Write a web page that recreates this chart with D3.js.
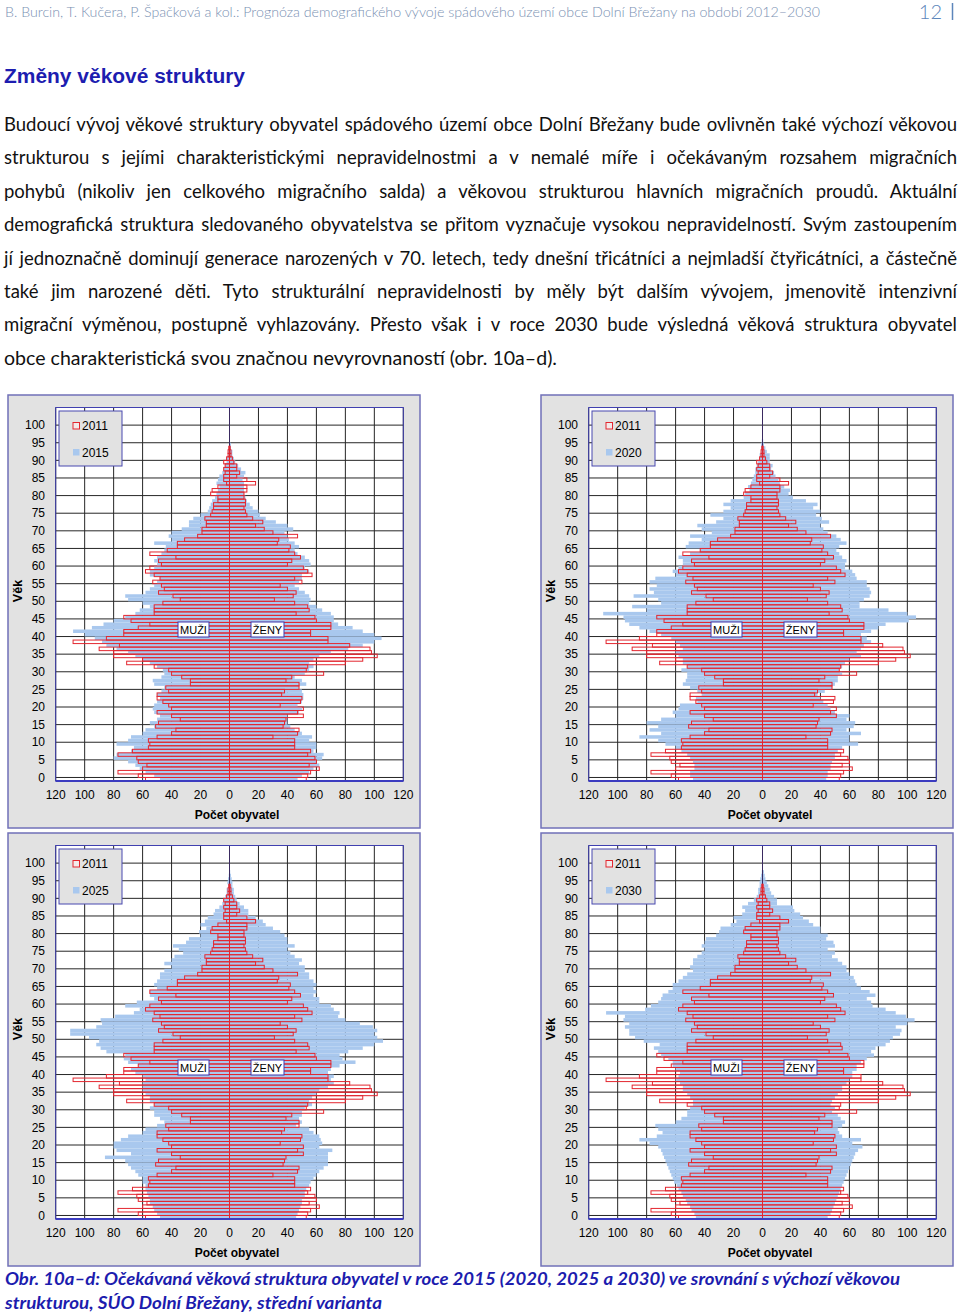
<!DOCTYPE html>
<html><head><meta charset="utf-8">
<script src="https://cdn.jsdelivr.net/npm/d3@7"></script>
<style>body{margin:0;background:#fff}</style>
</head><body>
<svg id="page" width="960" height="1316" xmlns="http://www.w3.org/2000/svg"></svg>
<script>
// ---------------- DATA ----------------
const ages = d3.range(0, 106);
const yTickAges = d3.range(0, 101, 5);
const xTickValues = [-120,-100,-80,-60,-40,-20,0,20,40,60,80,100,120];

// 2011 (base year) – men / women, ages 0..
const men2011 = [58,63,77,60,57,63,64,77,67,56, 55,56,50,40,37,51,49,34,40,50, 40,42,46,50,50,42,44,27,27,33, 40,42,52,71,60,80,80,90,76,108, 85,73,73,63,55,68,73,52,52,52, 46,34,39,49,45,47,53,48,52,58, 55,47,49,37,55,43,36,36,31,22, 19,19,16,16,17,13,12,11,11,8, 8,13,12,8,2,4,4,3,4,3, 4,2,1,1,0.5];
const women2011 = [53,54,56,62,55,60,59,54,56,45, 45,45,30,47,48,37,38,39,51,47, 51,35,49,50,36,38,48,48,39,43, 65,53,54,80,92,102,98,97,83,68, 68,56,56,70,70,60,59,46,55,54, 45,31,44,46,40,35,50,45,57,54, 51,40,43,49,45,41,42,33,34,47, 30,24,18,23,16,12,11,10,11,11, 10,10,12,12,18,12,5,7,5,5, 3,2,1,1,0.5];

const men2015 = [48,52,58,62,65,70,80,78,68,66, 78,70,68,60,58,52,55,50,48,52, 53,52,50,48,50,47,45,52,53,47, 45,46,50,55,60,65,70,78,85,88, 93,100,108,95,87,80,72,65,62,55, 60,70,72,58,55,52,50,48,55,55, 52,50,52,50,47,45,44,52,40,42, 40,33,28,28,25,20,15,14,13,12, 10,9,8,7,9,8,7,5,4,3, 2,2,1,1,0.5];
const women2015 = [47,50,55,58,62,60,64,65,58,60, 60,55,57,50,45,42,40,40,40,48, 50,47,50,51,51,50,48,53,50,45, 52,55,58,55,58,62,70,82,92,100, 105,100,92,85,75,72,72,70,64,60, 55,56,55,52,48,45,48,50,50,55, 52,56,55,52,47,45,48,45,41,40, 38,44,40,32,25,21,20,16,14,12, 11,10,10,10,10,9,10,11,8,6, 4,3,2,2,1,1];

const men2020 = [48,50,50,47,47,48,50,52,56,60, 67,72,85,70,78,72,80,70,60,62, 58,57,45,46,42,45,50,55,53,52, 52,56,52,55,55,58,60,55,57,60, 63,70,78,85,92,95,96,110,80,90, 70,72,89,75,78,73,78,74,60,62, 58,55,55,58,50,43,53,51,42,50, 35,42,45,32,27,36,27,22,27,22, 13,12,9,10,8,7,6,5,5,4, 3,2,2,1,1,1,0.5];
const women2020 = [44,45,45,47,47,48,50,50,52,55, 66,60,60,68,58,63,64,58,60,50, 47,45,42,40,38,43,48,50,52,52, 55,53,55,57,60,68,65,68,70,75, 72,68,75,80,85,101,106,100,87,67, 67,70,74,75,74,72,72,65,64,62, 57,57,58,55,53,51,53,58,54,51, 45,42,40,46,41,37,40,35,38,30, 21,18,19,15,12,11,9,8,6,7, 5,5,5,3,2,1,0.5];

const men2025 = [48,50,52,53,55,55,56,57,58,58, 60,60,63,65,68,70,72,86,68,78, 80,80,75,70,60,58,50,45,48,52, 52,55,52,55,55,58,60,60,60,58, 60,65,68,63,70,73,72,85,89,92, 90,97,110,110,92,88,89,79,66,62, 72,64,52,55,55,50,52,50,48,48, 45,40,45,40,38,32,35,39,30,28, 20,21,16,20,17,15,11,10,7,5, 4,3,2,2,1,1.5,1,0.5];
const women2025 = [46,47,48,49,50,50,52,52,53,55, 56,58,60,62,65,68,68,68,68,71, 62,64,63,62,58,55,46,50,48,50, 50,52,57,55,57,60,62,68,72,70, 72,68,70,76,87,78,76,82,92,100, 106,102,100,102,99,90,80,75,76,72, 70,62,62,58,60,58,60,58,55,55, 52,52,48,50,45,42,40,45,40,40, 38,35,30,25,23,18,13,13,10,7, 5,4,3,3,2,2,1.5,1,0.5];

const men2030 = [46,47,49,50,52,53,55,56,58,59, 61,62,63,64,65,66,67,68,69,70, 72,78,85,73,69,72,74,60,56,52, 52,50,48,48,50,52,55,55,57,60, 58,57,60,62,62,65,70,72,75,71, 82,88,92,92,95,92,96,95,108,81, 77,72,70,69,65,62,62,58,55,52, 48,50,48,48,45,42,40,42,40,39, 32,30,29,22,18,20,14,12,14,10, 6,4,3,3,2,2,1.5,1,0.5,0.3];
const women2030 = [45,47,48,49,50,51,52,53,54,55, 56,57,58,59,60,61,62,63,64,66, 69,62,68,55,53,52,55,57,54,52, 48,50,47,48,50,52,55,55,58,60, 62,62,65,65,68,72,77,75,78,85, 88,90,95,96,92,100,105,99,92,85, 76,75,72,78,74,68,65,64,63,60, 58,58,55,52,48,50,45,50,49,44, 45,40,40,35,32,28,26,22,21,10, 10,8,6,5,4,3,2,1.5,1,0.3];

const baseYear = "2011";
const projYears = ["2015", "2020", "2025", "2030"];
const projMen = [men2015, men2020, men2025, men2030];
const projWomen = [women2015, women2020, women2025, women2030];

// ---------------- TEXTS ----------------
const headerText = "B. Burcin, T. Kučera, P. Špačková a kol.: Prognóza demografického vývoje spádového území obce Dolní Břežany na období 2012–2030";
const pageNo = "12";
const titleText = "Změny věkové struktury";
const paraLines = [
  "Budoucí vývoj věkové struktury obyvatel spádového území obce Dolní Břežany bude ovlivněn také výchozí věkovou",
  "strukturou s jejími charakteristickými nepravidelnostmi a v nemalé míře i očekávaným rozsahem migračních",
  "pohybů (nikoliv jen celkového migračního salda) a věkovou strukturou hlavních migračních proudů. Aktuální",
  "demografická struktura sledovaného obyvatelstva se přitom vyznačuje vysokou nepravidelností. Svým zastoupením",
  "jí jednoznačně dominují generace narozených v 70. letech, tedy dnešní třicátníci a nejmladší čtyřicátníci, a částečně",
  "také jim narozené děti. Tyto strukturální nepravidelnosti by měly být dalším vývojem, jmenovitě intenzivní",
  "migrační výměnou, postupně vyhlazovány. Přesto však i v roce 2030 bude výsledná věková struktura obyvatel",
  "obce charakteristická svou značnou nevyrovnaností (obr. 10a–d)."
];
const captionLines = [
  "Obr. 10a–d: Očekávaná věková struktura obyvatel v roce 2015 (2020, 2025 a 2030) ve srovnání s výchozí věkovou",
  "strukturou, SÚO Dolní Břežany, střední varianta"
];

// ---------------- DRAW ----------------
const svg = d3.select("#page");
const BLUE = "#a9c8ee", RED = "#e3262f";

function fitWidth(sel, target, justifySpaces) {
  const node = sel.node();
  const w = node.getComputedTextLength();
  const spaces = (node.textContent.match(/ /g) || []).length;
  if (justifySpaces && w < target && spaces) {
    sel.style("word-spacing", ((target - w) / spaces) + "px");
    const w2 = node.getComputedTextLength();
    if (Math.abs(w2 - target) > 2) sel.style("word-spacing", null).attr("textLength", target).attr("lengthAdjust", "spacing");
  } else if (Math.abs(w - target) > 1) {
    sel.attr("textLength", target).attr("lengthAdjust", "spacingAndGlyphs");
  }
}

// header
const hdr = svg.append("text").attr("x", 5).attr("y", 17)
  .attr("font-family", "Lato, 'Open Sans', sans-serif").attr("font-weight", 300)
  .attr("font-size", 14.5).attr("fill", "#7a91b3").text(headerText);
fitWidth(hdr, 815, false);
svg.append("text").attr("x", 942).attr("y", 18.5).attr("text-anchor", "end")
  .attr("font-family", "Lato, sans-serif").attr("font-weight", 300).attr("font-size", 20)
  .attr("fill", "#5d86bb").text(pageNo);
svg.append("line").attr("x1", 952.5).attr("x2", 952.5).attr("y1", 3).attr("y2", 20)
  .attr("stroke", "#5d86bb").attr("stroke-width", 1.5);

// title
const ttl = svg.append("text").attr("x", 4).attr("y", 83)
  .attr("font-family", "'Liberation Sans', Arial, sans-serif").attr("font-weight", "bold")
  .attr("font-size", 20).attr("fill", "#1d1db0").text(titleText);
fitWidth(ttl, 241, false);

// paragraph
paraLines.forEach((t, i) => {
  const s = svg.append("text").attr("x", 4).attr("y", 131 + i * 33.4)
    .attr("font-family", "Lato, 'Open Sans', sans-serif").attr("font-size", 18.5)
    .attr("fill", "#111").text(t);
  if (i < paraLines.length - 1) fitWidth(s, 953, true);
  else fitWidth(s, 553, false);
});

// caption
captionLines.forEach((t, i) => {
  const s = svg.append("text").attr("x", 5).attr("y", 1285 + i * 23.5)
    .attr("font-family", "Lato, 'Open Sans', sans-serif").attr("font-size", 16.5)
    .attr("font-weight", "bold").attr("font-style", "italic")
    .attr("fill", "#1c1cae").text(t);
  fitWidth(s, i === 0 ? 895 : 377, false);
});

// charts
const chartPos = [[8, 395], [541, 395], [8, 833], [541, 833]];
const FONT = "'Liberation Sans', Arial, sans-serif";

function drawChart(g, year, men, women) {
  const W = 412, H = 433;
  const top = 12.5, bottom = 386;
  g.append("rect").attr("x", 0).attr("y", 0).attr("width", W).attr("height", H)
    .attr("fill", "#e2e2e2").attr("stroke", "#7070b8").attr("stroke-width", 1.5);

  const x = d3.scaleLinear().domain([-120, 120]).range([47.7, 395.3]);
  const y = d3.scaleBand().domain(ages).range([bottom, top]).padding(0);
  const bw = y.bandwidth();

  g.append("rect").attr("x", x(-120)).attr("y", top).attr("width", x(120) - x(-120))
    .attr("height", bottom - top).attr("fill", "#fff");

  // gridlines
  g.append("g").selectAll("line").data(xTickValues.filter(v => v !== 0)).join("line")
    .attr("x1", d => x(d)).attr("x2", d => x(d)).attr("y1", top).attr("y2", bottom)
    .attr("stroke", "#262626").attr("stroke-width", 1);
  g.append("g").selectAll("line").data(yTickAges).join("line")
    .attr("x1", x(-120)).attr("x2", x(120)).attr("y1", d => y(d)).attr("y2", d => y(d))
    .attr("stroke", "#262626").attr("stroke-width", 1);

  const val = (arr, a) => (a < arr.length ? arr[a] : 0);

  // projected year: filled blue
  const gb = g.append("g");
  gb.selectAll("rect.m").data(ages.filter(a => val(men, a) > 0)).join("rect")
    .attr("x", a => x(-val(men, a))).attr("width", a => x(0) - x(-val(men, a)))
    .attr("y", a => y(a)).attr("height", bw).attr("fill", BLUE);
  gb.selectAll("rect.w").data(ages.filter(a => val(women, a) > 0)).join("rect")
    .attr("x", x(0)).attr("width", a => x(val(women, a)) - x(0))
    .attr("y", a => y(a)).attr("height", bw).attr("fill", BLUE);

  // zero axis
  g.append("line").attr("x1", x(0)).attr("x2", x(0)).attr("y1", top).attr("y2", bottom)
    .attr("stroke", "#3a2a60").attr("stroke-width", 1);

  // 2011: red outline
  const gr = g.append("g").attr("fill", "none").attr("stroke", RED).attr("stroke-width", 1);
  gr.selectAll("rect.m").data(ages.filter(a => val(men2011, a) > 0)).join("rect")
    .attr("x", a => x(-val(men2011, a))).attr("width", a => x(0) - x(-val(men2011, a)))
    .attr("y", a => y(a)).attr("height", bw);
  gr.selectAll("rect.w").data(ages.filter(a => val(women2011, a) > 0)).join("rect")
    .attr("x", x(0)).attr("width", a => x(val(women2011, a)) - x(0))
    .attr("y", a => y(a)).attr("height", bw);

  // plot border
  g.append("rect").attr("x", x(-120)).attr("y", top).attr("width", x(120) - x(-120))
    .attr("height", bottom - top).attr("fill", "none").attr("stroke", "#4040b0").attr("stroke-width", 1);
  g.append("line").attr("x1", x(-120)).attr("x2", x(120)).attr("y1", bottom).attr("y2", bottom)
    .attr("stroke", "#3c3cc0").attr("stroke-width", 2);

  // y labels
  g.append("g").selectAll("text").data(yTickAges).join("text")
    .attr("x", 37).attr("y", d => y(d)).attr("dy", "0.35em").attr("text-anchor", "end")
    .attr("font-family", FONT).attr("font-size", 12).attr("fill", "#000").text(d => d);
  // x labels
  g.append("g").selectAll("text").data(xTickValues).join("text")
    .attr("x", d => x(d)).attr("y", 404).attr("text-anchor", "middle")
    .attr("font-family", FONT).attr("font-size", 12).attr("fill", "#000").text(d => Math.abs(d));

  g.append("text").attr("x", 229).attr("y", 423.5).attr("text-anchor", "middle")
    .attr("font-family", FONT).attr("font-size", 12).attr("font-weight", "bold").text("Počet obyvatel");
  g.append("text").attr("transform", "translate(14,196) rotate(-90)").attr("text-anchor", "middle")
    .attr("font-family", FONT).attr("font-size", 12.5).attr("font-weight", "bold").text("Věk");

  // legend
  g.append("rect").attr("x", 51).attr("y", 16).attr("width", 63).attr("height", 55)
    .attr("fill", "#e2e2e2").attr("stroke", "#4848b0").attr("stroke-width", 1);
  g.append("rect").attr("x", 65).attr("y", 27.5).attr("width", 6.5).attr("height", 6.5)
    .attr("fill", "#f3eaea").attr("stroke", RED).attr("stroke-width", 1);
  g.append("text").attr("x", 74).attr("y", 34.5).attr("font-family", FONT).attr("font-size", 12).text(baseYear);
  g.append("rect").attr("x", 65).attr("y", 54).attr("width", 6.5).attr("height", 6.5).attr("fill", BLUE);
  g.append("text").attr("x", 74).attr("y", 61.5).attr("font-family", FONT).attr("font-size", 12).text(year);

  // sex labels
  [["MUŽI", 170, 31], ["ŽENY", 243, 33]].forEach(([t, bx, bwid]) => {
    g.append("rect").attr("x", bx).attr("y", 227).attr("width", bwid).attr("height", 15)
      .attr("fill", "#fff").attr("stroke", "#3a3ab0").attr("stroke-width", 1);
    g.append("text").attr("x", bx + bwid / 2).attr("y", 238.5).attr("text-anchor", "middle")
      .attr("font-family", FONT).attr("font-size", 11).text(t);
  });
}

chartPos.forEach(([cx, cy], i) => {
  const g = svg.append("g").attr("transform", `translate(${cx},${cy})`);
  drawChart(g, projYears[i], projMen[i], projWomen[i]);
});
</script>
</body></html>
